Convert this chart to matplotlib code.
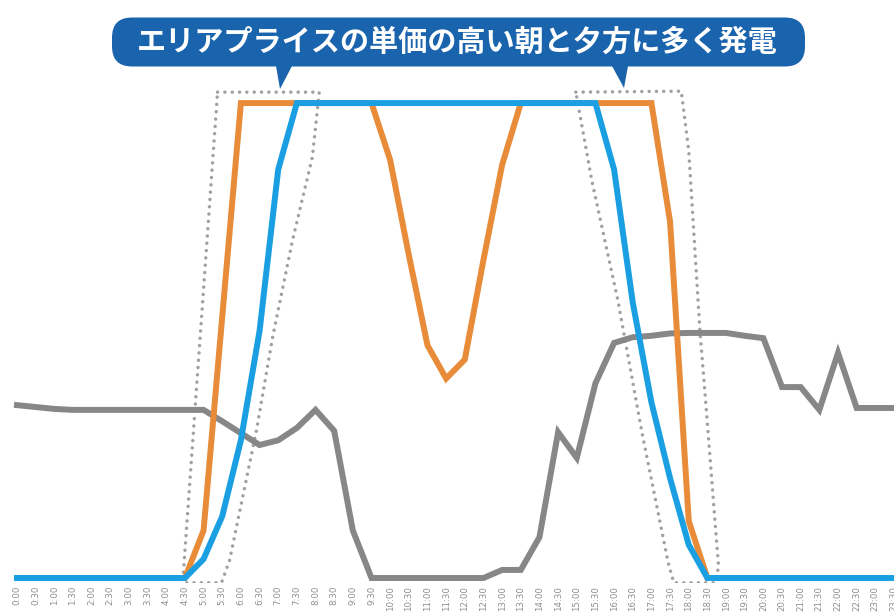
import matplotlib
matplotlib.use("Agg")
import matplotlib.pyplot as plt
from matplotlib.patches import FancyBboxPatch, Polygon

plt.rcParams['font.family'] = ['Noto Sans CJK JP', 'DejaVu Sans']

# half-hour slots 0:00 .. 23:30
times = [f"{h}:{m:02d}" for h in range(24) for m in (0, 30)]

# battery discharge (orange) and solar/battery output (blue), % of max
orange = [0, 0, 0, 0, 0, 0, 0, 0, 0, 0,
          10, 55, 100, 100, 100, 100, 100, 100, 100, 100,
          88, 68, 49, 42, 46, 67, 87, 100, 100, 100,
          100, 100, 100, 100, 100, 75, 12, 0, 0, 0,
          0, 0, 0, 0, 0, 0, 0, 0]
blue = [0, 0, 0, 0, 0, 0, 0, 0, 0, 0,
        4, 13, 29, 52, 86, 100, 100, 100, 100, 100,
        100, 100, 100, 100, 100, 100, 100, 100, 100, 100,
        100, 100, 86, 58, 37, 21, 7, 0, 0, 0,
        0, 0, 0, 0, 0, 0, 0, 0]
# area price (gray), same vertical scale
price = [36.4, 36, 35.6, 35.4, 35.4, 35.4, 35.4, 35.4, 35.4, 35.4,
         35.4, 33, 30.5, 28, 29, 31.6, 35.4, 31, 10, 0,
         0, 0, 0, 0, 0, 0, 1.7, 1.7, 8.6, 30.7,
         25.3, 41, 49.5, 50.7, 51, 51.5, 51.6, 51.6, 51.6, 51,
         50.5, 40.2, 40.2, 35.4, 47.4, 35.8, 35.8, 35.8]

title = "エリアプライスの単価の高い朝と夕方に多く発電"

x = list(range(len(times)))

fig = plt.figure(figsize=(8.94, 6.14), dpi=100)
ax = fig.add_axes([0, 31 / 614, 1, 1 - 31 / 614])

ax.plot(x, price, color="#878787", lw=4.3, solid_joinstyle="miter", zorder=2)
ax.plot(x, orange, color="#E88C3A", lw=4.3, solid_joinstyle="miter", zorder=3)
ax.plot(x, blue, color="#1A9FE2", lw=4.3, solid_joinstyle="miter", zorder=4)

# dotted outlines around the morning / evening ramps
left_box = [(10.75, 102.3), (16.2, 102.3), (15.83, 88.6), (14.76, 71),
            (13.7, 50.7), (12.83, 31), (11.4, 3.8), (10.96, -1.0),
            (8.88, -1.0)]
right_box = [(29.95, 102.3), (35.6, 102.5), (36.0, 90), (36.6, 52),
             (36.9, 37.5), (37.6, 2.3), (37.4, -1.0), (35.2, -1.0),
             (34.9, 3.2), (33.5, 30.5), (32.2, 58.5), (30.8, 83.8)]
for pts in (left_box, right_box):
    ax.add_patch(Polygon(pts, closed=True, fill=False, ec="#a0a0a0",
                         lw=2.5, ls=(0, (0.01, 2.1)), capstyle="round",
                         joinstyle="round", zorder=1))

ax.set_xlim(-17 / 18.7, (894 - 17) / 18.7)
ax.set_ylim(-1.05, 121.7)
ax.set_xticks(x)
ax.set_xticklabels(times, rotation=90, fontsize=6.2, color="#8e8e8e",
                   family="DejaVu Sans")
ax.tick_params(axis="x", length=0, pad=2)
ax.set_yticks([])
for s in ax.spines.values():
    s.set_visible(False)

# callout banner on top
tr = fig.dpi_scale_trans
H = 6.14
banner = "#1A64AE"
fig.patches.append(FancyBboxPatch((1.12, H - 0.665), 6.93, 0.49,
                                  boxstyle="round,pad=0,rounding_size=0.2",
                                  fc=banner, ec="none", transform=tr,
                                  figure=fig))
fig.patches.append(Polygon([(2.76, H - 0.66), (2.92, H - 0.66), (2.80, H - 0.89)],
                           closed=True, fc=banner, ec="none", transform=tr,
                           figure=fig))
fig.patches.append(Polygon([(6.12, H - 0.66), (6.28, H - 0.66), (6.24, H - 0.88)],
                           closed=True, fc=banner, ec="none", transform=tr,
                           figure=fig))
fig.text(4.57 / 8.94, 1 - 0.415 / 6.14, title, color="white", fontsize=21,
         fontweight="bold", ha="center", va="center")

fig.savefig("out.png", dpi=100)
